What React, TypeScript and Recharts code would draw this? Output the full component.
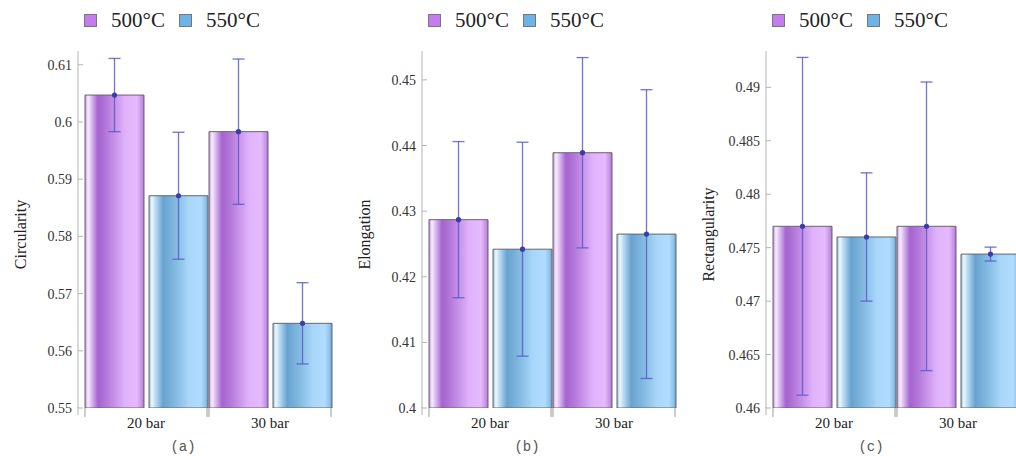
import React from 'react';
import { BarChart, Bar, XAxis, YAxis, ErrorBar, LabelList, Legend, Label } from 'recharts';

const categories = ['20 bar', '30 bar'];
const seriesNames = ['500°C', '550°C'];

const circ500 = [0.6047, 0.5983];
const circ500Err = [0.0064, 0.0127];
const circ550 = [0.5871, 0.5648];
const circ550Err = [0.0111, 0.0071];

const elong500 = [0.4287, 0.4389];
const elong500Err = [0.0119, 0.0145];
const elong550 = [0.4242, 0.4265];
const elong550Err = [0.0163, 0.022];

const rect500 = [0.477, 0.477];
const rect500Err = [0.0158, 0.0135];
const rect550 = [0.476, 0.4744];
const rect550Err = [0.006, 0.00065];

const circTicks = [0.55, 0.56, 0.57, 0.58, 0.59, 0.6, 0.61];
const elongTicks = [0.4, 0.41, 0.42, 0.43, 0.44, 0.45];
const rectTicks = [0.46, 0.465, 0.47, 0.475, 0.48, 0.485, 0.49];

const circDomain = [0.55, 0.6124];
const elongDomain = [0.4, 0.4544];
const rectDomain = [0.46, 0.4934];

const build = (a: number[], ae: number[], b: number[], be: number[]) =>
  categories.map((c, i) => ({ cat: c, v500: a[i], e500: ae[i], v550: b[i], e550: be[i] }));

const CHART_W = 344;
const CHART_H = 456;
const Y_W = 78;
const PAD_L = 6;
const M_RIGHT = 12;
const BAND_HALF = (CHART_W - Y_W - M_RIGHT - PAD_L) / categories.length / 2;

const serif = "'Liberation Serif', 'Times New Roman', Times, serif";
const mono = "'Liberation Mono', 'Courier New', monospace";
const legendColors = ['#c47cf0', '#6cb4e8'];

const YTick = (props: any) => {
  const { x, y, payload } = props;
  return (
    <g>
      <line x1={x} x2={x + 5} y1={y} y2={y} stroke="#b4b4b4" strokeWidth={1} />
      <text x={x - 6} y={y} dy={5} textAnchor="end" fontSize={14} style={{ fontFamily: serif }} fill="#333">
        {payload.value}
      </text>
    </g>
  );
};

const XTick = (props: any) => {
  const { x, y, payload, index } = props;
  const e = BAND_HALF - 1;
  return (
    <g>
      <line x1={x - e} x2={x - e} y1={y} y2={y + 9} stroke="#999" strokeWidth={1} />
      <line x1={x + e} x2={x + e} y1={y} y2={y + 9} stroke="#999" strokeWidth={1} />
      {index === 0 && (
        <line x1={x - BAND_HALF - PAD_L} x2={x - BAND_HALF - PAD_L} y1={y - 1} y2={y + 7} stroke="#b4b4b4" strokeWidth={1} />
      )}
      <text x={x} y={y + 20} textAnchor="middle" fontSize={15} style={{ fontFamily: serif }} fill="#222">
        {payload.value}
      </text>
    </g>
  );
};

const Dot = (props: any) => {
  const { x, y, width } = props;
  if (x == null || y == null) return null;
  return <circle cx={x + width / 2} cy={y} r={2.6} fill="#3c3ca8" />;
};

const LegendBox = () => (
  <div
    style={{
      display: 'flex',
      justifyContent: 'center',
      alignItems: 'center',
      fontFamily: serif,
      fontSize: 21,
      color: '#222',
      height: 24,
      lineHeight: '24px',
    }}
  >
    {seriesNames.map((n, i) => (
      <React.Fragment key={n}>
        <span
          style={{
            display: 'inline-block',
            width: 13,
            height: 13,
            background: legendColors[i],
            border: '1px solid #777',
            boxSizing: 'border-box',
            marginRight: 14,
          }}
        />
        <span style={{ marginRight: i === 0 ? 14 : 0 }}>{n}</span>
      </React.Fragment>
    ))}
  </div>
);

const Panel = (p: {
  left: number;
  id: string;
  data: any[];
  ticks: number[];
  domain: number[];
  yLabel: string;
  tag: string;
}) => {
  const gp = `gp-${p.id}`;
  const gb = `gb-${p.id}`;
  return (
    <div style={{ position: 'absolute', left: p.left, top: 0, width: CHART_W, height: CHART_H }}>
      <BarChart
        width={CHART_W}
        height={CHART_H}
        data={p.data}
        margin={{ top: 51, right: M_RIGHT, bottom: 18, left: 0 }}
        barCategoryGap={1}
        barGap={5}
      >
        <defs>
          <linearGradient id={gp} x1="0" y1="0" x2="1" y2="0">
            <stop offset="0%" stopColor="#c08ee0" />
            <stop offset="5%" stopColor="#f8eeff" />
            <stop offset="9%" stopColor="#e6cdf8" />
            <stop offset="22%" stopColor="#a563cf" />
            <stop offset="36%" stopColor="#b378da" />
            <stop offset="68%" stopColor="#e0b2fb" />
            <stop offset="88%" stopColor="#e5baff" />
            <stop offset="96%" stopColor="#c892e8" />
            <stop offset="100%" stopColor="#a872c8" />
          </linearGradient>
          <linearGradient id={gb} x1="0" y1="0" x2="1" y2="0">
            <stop offset="0%" stopColor="#8fbfe6" />
            <stop offset="5%" stopColor="#f2f9ff" />
            <stop offset="9%" stopColor="#c8e3f8" />
            <stop offset="24%" stopColor="#68a2cf" />
            <stop offset="40%" stopColor="#7cb4dd" />
            <stop offset="68%" stopColor="#a8d7f9" />
            <stop offset="88%" stopColor="#b0dcff" />
            <stop offset="96%" stopColor="#8ec1e8" />
            <stop offset="100%" stopColor="#6c9fc8" />
          </linearGradient>
        </defs>
        <Legend
          layout="horizontal"
          verticalAlign="middle"
          align="center"
          wrapperStyle={{ left: 0, top: 8, width: CHART_W }}
          content={() => <LegendBox />}
        />
        <XAxis
          dataKey="cat"
          type="category"
          axisLine={false}
          tickLine={false}
          tickSize={0}
          tickMargin={0}
          height={30}
          padding={{ left: PAD_L, right: 0 }}
          tick={<XTick />}
          interval={0}
        />
        <YAxis
          type="number"
          domain={p.domain}
          ticks={p.ticks}
          allowDataOverflow
          width={Y_W}
          axisLine={{ stroke: '#b4b4b4' }}
          tickLine={false}
          tickSize={0}
          tickMargin={0}
          tick={<YTick />}
          interval={0}
        >
          <Label
            content={(lp: any) => {
              const vb = lp.viewBox || { x: 0, y: 51, width: Y_W, height: 357 };
              const cx = vb.x + 20;
              const cy = vb.y + vb.height / 2 + 5;
              return (
                <text
                  x={cx}
                  y={cy}
                  transform={`rotate(-90, ${cx}, ${cy})`}
                  textAnchor="middle"
                  dominantBaseline="central"
                  fontSize={16}
                  style={{ fontFamily: serif }}
                  fill="#222"
                >
                  {p.yLabel}
                </text>
              );
            }}
          />
        </YAxis>
        <Bar dataKey="v500" name={seriesNames[0]} fill={`url(#${gp})`} stroke="#666" strokeWidth={1} isAnimationActive={false}>
          <ErrorBar dataKey="e500" width={6} stroke="#5a5ac8" strokeOpacity={0.85} strokeWidth={1.3} />
          <LabelList dataKey="v500" content={<Dot />} />
        </Bar>
        <Bar dataKey="v550" name={seriesNames[1]} fill={`url(#${gb})`} stroke="#666" strokeWidth={1} isAnimationActive={false}>
          <ErrorBar dataKey="e550" width={6} stroke="#5a5ac8" strokeOpacity={0.85} strokeWidth={1.3} />
          <LabelList dataKey="v550" content={<Dot />} />
        </Bar>
      </BarChart>
      <div
        style={{
          position: 'absolute',
          left: 160,
          width: 46,
          top: 438,
          textAlign: 'center',
          fontFamily: mono,
          fontSize: 14,
          color: '#555',
          lineHeight: '18px',
        }}
      >
        {p.tag}
      </div>
    </div>
  );
}

export default function App() {
  return (
    <div
      style={{
        position: 'absolute',
        left: 0,
        top: 0,
        width: 1016,
        height: 456,
        overflow: 'hidden',
        background: '#fff',
      }}
    >
      <Panel left={0} id="a" data={build(circ500, circ500Err, circ550, circ550Err)} ticks={circTicks} domain={circDomain} yLabel="Circularity" tag="(a)" />
      <Panel left={344} id="b" data={build(elong500, elong500Err, elong550, elong550Err)} ticks={elongTicks} domain={elongDomain} yLabel="Elongation" tag="(b)" />
      <Panel left={688} id="c" data={build(rect500, rect500Err, rect550, rect550Err)} ticks={rectTicks} domain={rectDomain} yLabel="Rectangularity" tag="(c)" />
    </div>
  );
}
